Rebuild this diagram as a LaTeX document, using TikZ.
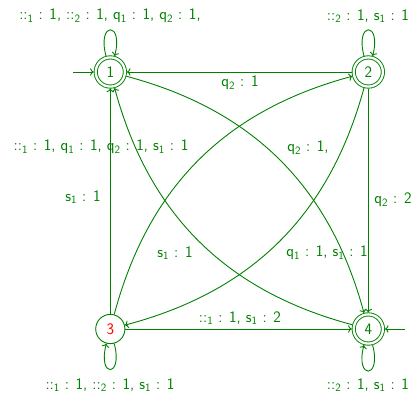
\documentclass[tikz,border=0pt]{standalone}
\usetikzlibrary{arrows.meta,automata}
\definecolor{dgreen}{RGB}{0,128,0}
\newcommand{\sbs}[1]{\textsubscript{#1}}
\begin{document}
\begin{tikzpicture}[x=1pt,y=1pt,
  font=\sffamily\fontsize{16}{18}\selectfont,
  st/.style={circle,draw=dgreen,line width=0.9pt,minimum size=29.2pt,inner sep=0pt,text=dgreen},
  acc/.style={st,double=white,double distance=2.3pt,outer sep=2pt},
  tr/.style={->,draw=dgreen,line width=0.9pt},
  lbl/.style={text=dgreen,inner sep=0pt},
  lp/.style={min distance=36pt}]
\useasboundingbox (0,0) rectangle (415,393);
\node[acc] (n1) at (110.3,321) {1};
\node[acc] (n2) at (368.3,321) {2};
\node[st,text=red] (n3) at (110.3,64) {3};
\node[acc] (n4) at (368.3,64) {4};
\coordinate (i1) at (73,321);
\coordinate (i4) at (405,64);
\draw[tr] (i1) -- (n1);
\draw[tr] (i4) -- (n4);
\draw[tr] (n2) -- (n1);
\draw[tr] (n3) -- (n4);
\draw[tr] (n2) -- (n4);
\draw[tr] (n3) -- (n1);
\draw[tr] (n1) to[bend left=30] (n4);
\draw[tr] (n4) to[bend left=30] (n1);
\draw[tr] (n3) to[bend left=30] (n2);
\draw[tr] (n2) to[bend left=30] (n3);
\draw[tr] (n1) to[loop above,lp] (n1);
\draw[tr] (n2) to[loop above,lp] (n2);
\draw[tr] (n3) to[loop below,lp] (n3);
\draw[tr] (n4) to[loop below,lp] (n4);
\node[lbl] (l1) at (110,377) {::\sbs{1} : 1, ::\sbs{2} : 1, q\sbs{1} : 1, q\sbs{2} : 1,};
\node[lbl] (l2) at (368,377) {::\sbs{2} : 1, s\sbs{1} : 1};
\node[lbl] (l3) at (110,8) {::\sbs{1} : 1, ::\sbs{2} : 1, s\sbs{1} : 1};
\node[lbl] (l4) at (368,8) {::\sbs{2} : 1, s\sbs{1} : 1};
\node[lbl] (l21) at (240,310) {q\sbs{2} : 1};
\node[lbl] (l24) at (393,193) {q\sbs{2} : 2};
\node[lbl] (l31) at (83,196) {s\sbs{1} : 1};
\node[lbl] (l34) at (240,75) {::\sbs{1} : 1, s\sbs{1} : 2};
\node[lbl] (la) at (101,246) {::\sbs{1} : 1, q\sbs{1} : 1, q\sbs{2} : 1, s\sbs{1} : 1};
\node[lbl] (lb) at (308,245) {q\sbs{2} : 1,};
\node[lbl] (lc) at (175,140) {s\sbs{1} : 1};
\node[lbl] (ld) at (327,140) {q\sbs{1} : 1, s\sbs{1} : 1};
\end{tikzpicture}
\end{document}
